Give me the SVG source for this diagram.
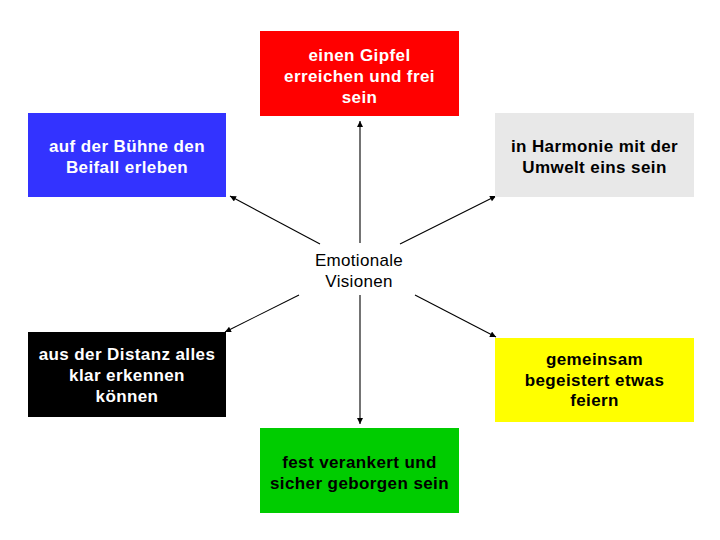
<svg xmlns="http://www.w3.org/2000/svg" width="720" height="540" viewBox="0 0 720 540">
<style>
.box text{font-family:"Liberation Sans",Arial,sans-serif;font-weight:bold;font-size:17px;letter-spacing:0.4px;text-anchor:middle}
.w{fill:#ffffff}
.k{fill:#000000}
.center{font-family:"Liberation Sans",Arial,sans-serif;font-size:17px;letter-spacing:0.3px;text-anchor:middle;fill:#000}
.conn line{stroke:#000;stroke-width:1.1;marker-end:url(#ah)}
</style>
<defs>
<marker id="ah" viewBox="0 0 10 10" refX="10" refY="5" markerWidth="7" markerHeight="6" markerUnits="userSpaceOnUse" orient="auto">
<path d="M0,0 L10,5 L0,10 z" fill="#000"/>
</marker>
</defs>
<rect width="720" height="540" fill="#ffffff"/>
<g id="connectors" class="conn">
<line x1="360" y1="243" x2="360" y2="121"/>
<line x1="360" y1="295" x2="360" y2="424"/>
<line x1="320" y1="244" x2="230" y2="196"/>
<line x1="400" y1="244" x2="496" y2="196"/>
<line x1="299" y1="295" x2="225" y2="332"/>
<line x1="415" y1="295" x2="496" y2="337"/>
</g>
<g id="center">
<text class="center" x="359" y="265.5">Emotionale</text>
<text class="center" x="359" y="287">Visionen</text>
</g>
<g id="gipfel" class="box">
<rect x="260" y="31" width="199" height="85" fill="#ff0000"/>
<text class="w" x="359.5" y="61">einen Gipfel</text>
<text class="w" x="359.5" y="82">erreichen und frei</text>
<text class="w" x="359.5" y="103">sein</text>
</g>
<g id="buehne" class="box">
<rect x="28" y="113" width="198" height="84" fill="#3333ff"/>
<text class="w" x="127" y="152">auf der Bühne den</text>
<text class="w" x="127" y="173">Beifall erleben</text>
</g>
<g id="harmonie" class="box">
<rect x="495" y="113" width="199" height="84" fill="#e8e8e8"/>
<text class="k" x="594.5" y="152">in Harmonie mit der</text>
<text class="k" x="594.5" y="173">Umwelt eins sein</text>
</g>
<g id="distanz" class="box">
<rect x="28" y="332" width="198" height="85" fill="#000000"/>
<text class="w" x="127" y="360">aus der Distanz alles</text>
<text class="w" x="127" y="381">klar erkennen</text>
<text class="w" x="127" y="402">können</text>
</g>
<g id="feiern" class="box">
<rect x="495" y="338" width="199" height="84" fill="#ffff00"/>
<text class="k" x="594.5" y="365">gemeinsam</text>
<text class="k" x="594.5" y="386">begeistert etwas</text>
<text class="k" x="594.5" y="406">feiern</text>
</g>
<g id="verankert" class="box">
<rect x="260" y="428" width="199" height="85" fill="#00cc00"/>
<text class="k" x="359.5" y="468">fest verankert und</text>
<text class="k" x="359.5" y="489">sicher geborgen sein</text>
</g>
</svg>
